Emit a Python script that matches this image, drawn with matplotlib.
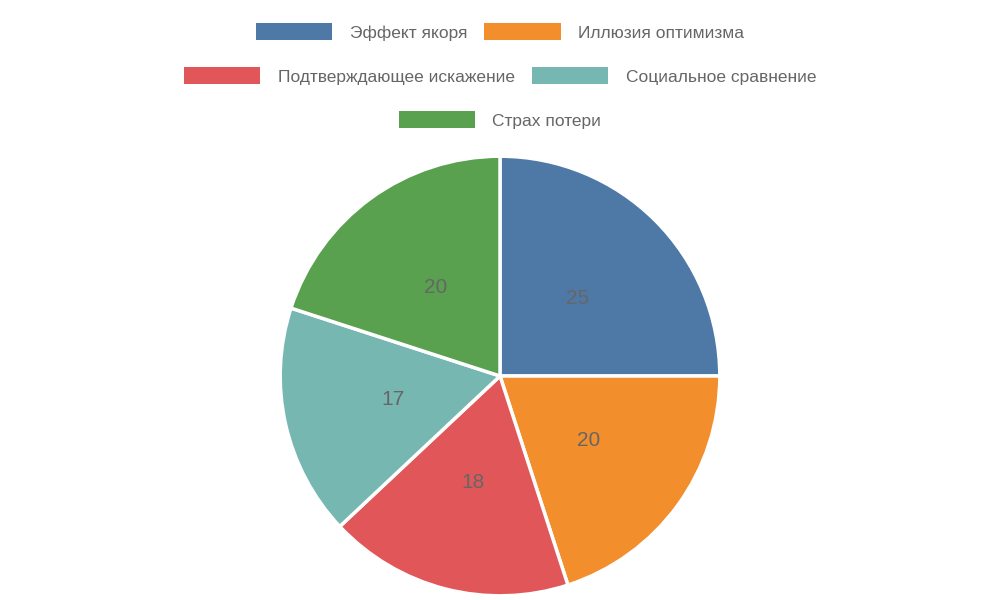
import matplotlib.pyplot as plt
from matplotlib.patches import Patch

plt.rcParams['font.family'] = ['Liberation Sans', 'DejaVu Sans']

labels = ['Эффект якоря', 'Иллюзия оптимизма', 'Подтверждающее искажение',
          'Социальное сравнение', 'Страх потери']
values = [25, 20, 18, 17, 20]
colors = ['#4e79a7', '#f28e2b', '#e15759', '#76b7b2', '#59a14f']
text_col = '#666666'

fig = plt.figure(figsize=(10, 6), dpi=100)
ax = fig.add_axes([0.5 - 0.222, 0.3733 - 0.37, 0.444, 0.74])
total = sum(values)
wedges, texts, autotexts = ax.pie(
    values, colors=colors, startangle=90, counterclock=False,
    autopct=lambda p: f'{round(p * total / 100):.0f}', pctdistance=0.5,
    wedgeprops=dict(edgecolor='white', linewidth=2.5),
    textprops=dict(color=text_col, fontsize=15))
ax.set_aspect('equal')
ax.set_xlim(-1.01, 1.01)
ax.set_ylim(-1.01, 1.01)

rows = [[0, 1], [2, 3], [4]]
ys = [1 - 32 / 600, 1 - 76 / 600, 1 - 120 / 600]
for row, y in zip(rows, ys):
    handles = [Patch(facecolor=colors[i]) for i in row]
    fig.legend(handles, [labels[i] for i in row], loc='center', bbox_to_anchor=(0.5, y),
               ncol=len(row), frameon=False, fontsize=12.5, labelcolor=text_col,
               handlelength=4.4, handleheight=1.15, handletextpad=1.0, columnspacing=1.0)

plt.savefig('out.png', dpi=100)
